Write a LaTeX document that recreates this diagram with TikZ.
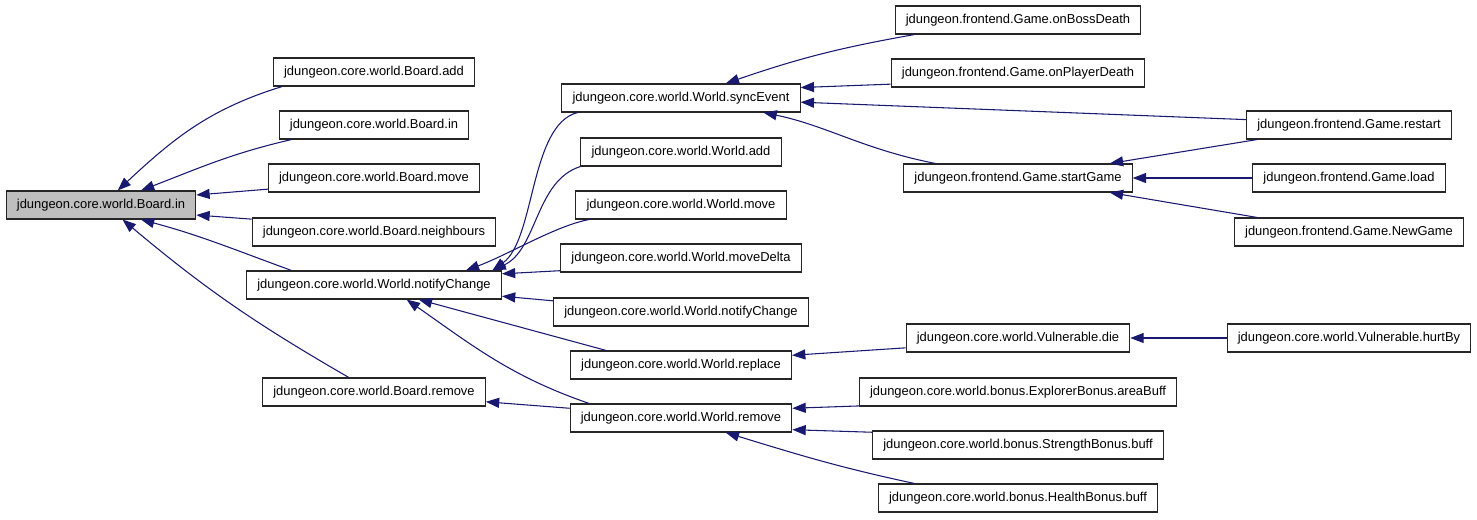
\documentclass[tikz,border=0pt]{standalone}
\usepackage{fontspec}
\setmainfont{Liberation Sans}
\usetikzlibrary{arrows.meta}
\definecolor{callblue}{HTML}{191970}
\begin{document}
\begin{tikzpicture}[x=0.75pt,y=-0.75pt,
fn/.style={draw=black!85, line width=0.8pt, fill=white, inner xsep=8pt, minimum height=21pt, font=\fontsize{9.7}{11}\selectfont},
call/.style={draw=callblue, line width=0.8pt, -{Triangle[length=10pt,width=7.5pt]}}]
\useasboundingbox (0,0) rectangle (1477,519);
\node[fn, fill=black!25] (bin) at (101,205){jdungeon.core.world.Board.in};
\node[fn] (badd) at (374,72){jdungeon.core.world.Board.add};
\node[fn] (bin2) at (374,125){jdungeon.core.world.Board.in};
\node[fn] (bmove) at (374,178){jdungeon.core.world.Board.move};
\node[fn] (bnb) at (374,232){jdungeon.core.world.Board.neighbours};
\node[fn] (wnc) at (374,285){jdungeon.core.world.World.notifyChange};
\node[fn] (brm) at (374,392){jdungeon.core.world.Board.remove};
\draw[call] (badd.189) to[out=197,in=43] (bin.41);
\draw[call] (bin2.190) to[out=193,in=21] (bin.20);
\draw[call] (bmove.186) -- (bin.6);
\draw[call] (bnb.174) -- (bin.-6);
\draw[call] (wnc.170) to[out=160,in=-15] (bin.-20);
\draw[call] (brm.150) to[out=150,in=-40] (bin.-34);
\node[fn] (wse) at (681,98){jdungeon.core.world.World.syncEvent};
\node[fn] (wadd) at (681,152){jdungeon.core.world.World.add};
\node[fn] (wmove) at (681,205){jdungeon.core.world.World.move};
\node[fn] (wmd) at (681,258){jdungeon.core.world.World.moveDelta};
\node[fn] (wnc2) at (681,312){jdungeon.core.world.World.notifyChange};
\node[fn] (wrep) at (681,365){jdungeon.core.world.World.replace};
\node[fn] (wrm) at (681,418){jdungeon.core.world.World.remove};
\draw[call] (wse.188) .. controls +(-48,12) and +(43,-31) .. (wnc.7);
\draw[call] (wadd.south west) .. controls +(-45,14) and +(45,-21) .. (wnc.7.5);
\draw[call] (wmove.189) .. controls +(-33,6) and +(43,-16) .. (wnc.9);
\draw[call] (wmd.186) -- (wnc.5);
\draw[call] (wnc2.175) -- (wnc.-5);
\draw[call] (wrep.169) -- (wnc.-18);
\draw[call] (wrm.171) to[out=161,in=-35] (wnc.-24);
\draw[call] (wrm.175) -- (brm.-5);
\node[fn] (gboss) at (1018,20){jdungeon.frontend.Game.onBossDeath};
\node[fn] (gplayer) at (1018,73){jdungeon.frontend.Game.onPlayerDeath};
\node[fn] (gstart) at (1018,178){jdungeon.frontend.Game.startGame};
\node[fn] (vdie) at (1018,338){jdungeon.core.world.Vulnerable.die};
\node[fn] (bexp) at (1018,392){jdungeon.core.world.bonus.ExplorerBonus.areaBuff};
\node[fn] (bstr) at (1018,445){jdungeon.core.world.bonus.StrengthBonus.buff};
\node[fn] (bhp) at (1018,498){jdungeon.core.world.bonus.HealthBonus.buff};
\draw[call] (gboss.188) to[out=190,in=19] (wse.18);
\draw[call] (gplayer.185) -- (wse.5);
\draw[call] (gstart.170) .. controls +(-72,-14) and +(63,13) .. (wse.-10);
\draw[call] (vdie.185) -- (wrep.5);
\draw[call] (bexp.185) -- (wrm.5);
\draw[call] (bstr.175) -- (wrm.-6);
\draw[call] (bhp.172) to[out=168,in=-17] (wrm.-18);
\node[fn] (grestart) at (1349,125){jdungeon.frontend.Game.restart};
\node[fn] (gload) at (1349,178){jdungeon.frontend.Game.load};
\node[fn] (gnew) at (1349,232){jdungeon.frontend.Game.NewGame};
\node[fn] (vhurt) at (1349,338){jdungeon.core.world.Vulnerable.hurtBy};
\draw[call] (grestart.177) -- (wse.-2);
\draw[call] (grestart.189) -- (gstart.9);
\draw[call] (gload) -- (gstart);
\draw[call] (gnew.171) -- (gstart.-9);
\draw[call] (vhurt) -- (vdie);
\end{tikzpicture}
\end{document}
